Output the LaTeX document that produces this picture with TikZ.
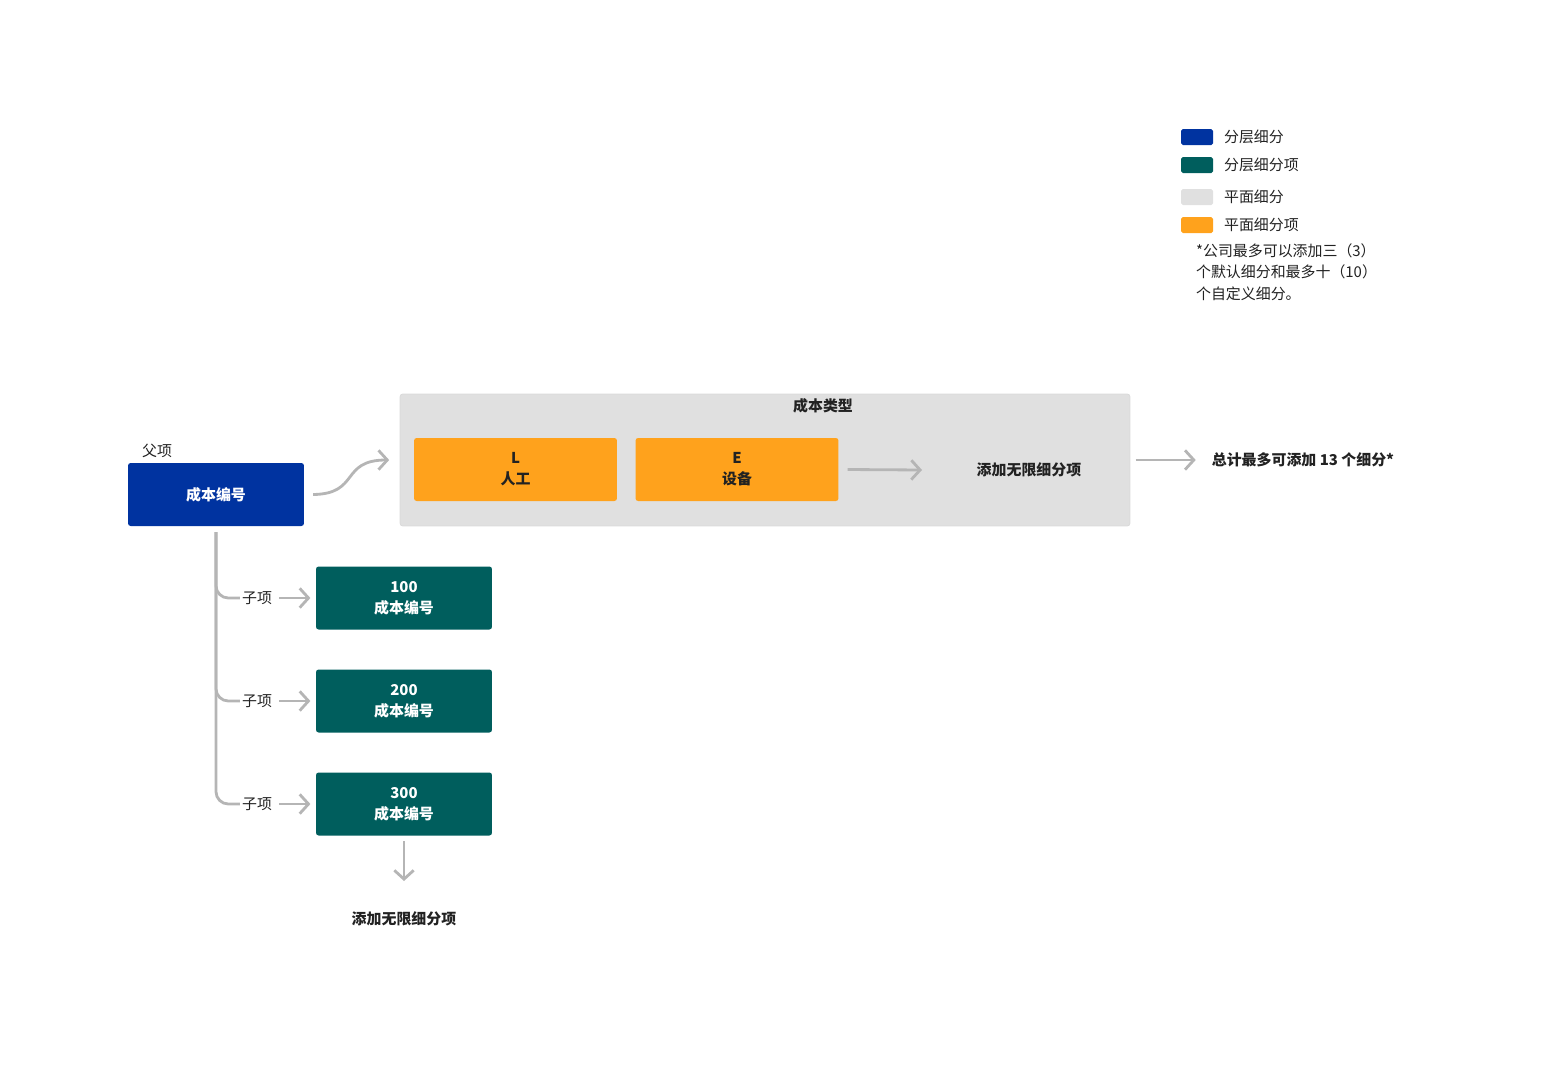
\documentclass[tikz,border=0pt]{standalone}
\usepackage{fontspec}
\setmainfont{Noto Sans CJK SC}
\usetikzlibrary{arrows.meta,positioning}
\definecolor{hblue}{HTML}{0033A0}
\definecolor{hteal}{HTML}{005E5D}
\definecolor{fgray}{HTML}{E0E0E0}
\definecolor{forange}{HTML}{FFA21C}
\definecolor{lgray}{HTML}{B5B5B5}
\definecolor{ink}{HTML}{222222}
\tikzset{
  box/.style={rectangle, rounded corners=1.5pt, inner sep=0pt, align=center,
    font=\fontsize{8.5}{12}\selectfont\bfseries},
  parent/.style={box, fill=hblue, text=white, minimum width=3.52cm, minimum height=1.26cm},
  child/.style={box, fill=hteal, text=white, minimum width=3.52cm, minimum height=1.26cm},
  item/.style={box, fill=forange, text=ink, minimum width=4.06cm, minimum height=1.26cm},
  label/.style={font=\fontsize{8.5}{12}\selectfont, text=ink, inner sep=1pt},
  blabel/.style={label, font=\fontsize{8.5}{12}\selectfont\bfseries},
  conn/.style={draw=lgray, line width=1.6pt, -{Straight Barb[length=5pt,width=11pt]}},
  trunk/.style={draw=lgray, line width=1.6pt, rounded corners=7pt},
  swatch/.style={rectangle, rounded corners=1pt, minimum width=0.64cm, minimum height=0.32cm, inner sep=0pt},
}
\begin{document}
\begin{tikzpicture}[x=0.02cm,y=-0.02cm]
\useasboundingbox (0,0) rectangle (1542,1079);
% flat breakdown frame
\node[rectangle, rounded corners=1.5pt, fill=fgray, draw=black!15, minimum width=14.6cm, minimum height=2.64cm] (flat) at (765,460) {};
\node[blabel] (flattitle) at (823,406) {成本类型};
\node[item] (lab) at (515.5,469.5) {L\\人工};
\node[item] (equ) at (737,469.5) {E\\设备};
\node[blabel] (more) at (1029,470) {添加无限细分项};
\node[blabel] (total) at (1303,460) {总计最多可添加 13 个细分*};
\draw[conn] ([xshift=5pt]equ.east) -- (more.west -| 922,0);
\draw[conn] ([xshift=3pt]flat.east) -- ([xshift=-8pt]total.west);
% parent
\node[parent] (cost) at (216,494.5) {成本编号};
\node[label] (parlbl) at (157,451) {父项};
\draw[conn] ([xshift=5pt]cost.east) .. controls (360,494) and (340,460) .. ([xshift=-6pt]flat.west |- 0,460);
% children
\coordinate (top) at (216,532);
\foreach \n/\y in {100/598,200/701,300/804}{
  \node[child] (c\n) at (404,\y) {\n\\成本编号};
  \node[label] (s\n) at (257,\y) {子项};
  \draw[trunk] (top) |- (s\n.west);
  \draw[conn] ([xshift=3pt]s\n.east) -- ([xshift=-3pt]c\n.west);
}
\node[blabel] (addmore) at (404,919) {添加无限细分项};
\draw[conn] ([yshift=-3pt]c300.south) -- (404,881);
% legend
\foreach \c/\y/\t in {hblue/137/分层细分,hteal/165/分层细分项,fgray/197/平面细分,forange/225/平面细分项}{
  \node[swatch, fill=\c] (sw\y) at (1197,\y) {};
  \node[label, anchor=west] (lg\y) at (1222,\y) {\t};
}
\node[label, anchor=north west, align=left, font=\fontsize{8.5}{12}\selectfont] (note) at (1194,242)
  {*公司最多可以添加三（\textit{3}）\\个默认细分和最多十（\textit{10}）\\个自定义细分。};
\end{tikzpicture}
\end{document}
